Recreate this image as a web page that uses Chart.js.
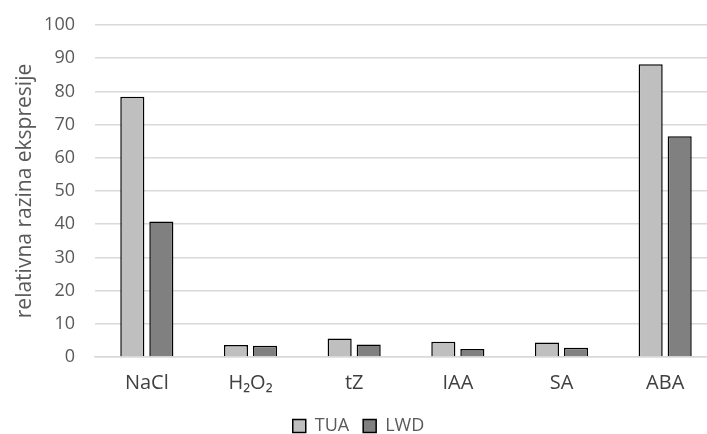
<!DOCTYPE html>
<html>
<head>
<meta charset="utf-8">
<script src="https://cdn.jsdelivr.net/npm/chart.js@4/dist/chart.umd.min.js"></script>
<style>
  html, body { margin: 0; padding: 0; background: #fff; overflow: hidden; }
  #wrap { width: 720px; height: 434px; }
</style>
</head>
<body>
<div id="wrap"><canvas id="barChart"></canvas></div>
<script>
const categories = ['NaCl', 'H₂O₂', 'tZ', 'IAA', 'SA', 'ABA'];
const tuaValues = [78.4, 3.6, 5.6, 4.6, 4.4, 88.2];
const lwdValues = [40.8, 3.4, 3.8, 2.4, 2.8, 66.5];
const yTicks = [0, 10, 20, 30, 40, 50, 60, 70, 80, 90, 100];

const fontFamily = "'Open Sans', 'DejaVu Sans', sans-serif";

const ctxBar = document.getElementById('barChart').getContext('2d');
const barChart = new Chart(ctxBar, {
    type: 'bar',
    data: {
        labels: categories,
        datasets: [
            {
                label: 'TUA',
                data: tuaValues,
                backgroundColor: '#BFBFBF',
                borderColor: '#000000',
                borderWidth: 1.5,
                borderSkipped: 'bottom'
            },
            {
                label: 'LWD',
                data: lwdValues,
                backgroundColor: '#808080',
                borderColor: '#000000',
                borderWidth: 1.5,
                borderSkipped: 'bottom'
            }
        ]
    },
    options: {
        responsive: true,
        maintainAspectRatio: false,
        animation: false,
        devicePixelRatio: 1,
        categoryPercentage: 0.56,
        barPercentage: 0.83,
        layout: {
            // legend sits partly below the visible edge, as in the original
            padding: { top: 25, right: 3, left: 0, bottom: -11 }
        },
        plugins: {
            legend: {
                position: 'bottom',
                labels: {
                    boxWidth: 13,
                    boxHeight: 13,
                    color: '#595959',
                    font: { family: fontFamily, size: 18 },
                    padding: 14,
                    generateLabels: function(chart) {
                        return chart.data.datasets.map((ds, i) => ({
                            text: ds.label,
                            fillStyle: ds.backgroundColor,
                            strokeStyle: '#000000',
                            lineWidth: 1.5,
                            fontColor: '#595959',
                            datasetIndex: i
                        }));
                    }
                }
            },
            tooltip: { enabled: false }
        },
        scales: {
            x: {
                afterFit: function(scale) {
                    scale.height = 46;
                },
                grid: { display: false, drawTicks: false },
                border: { color: '#D9D9D9', width: 1.5 },
                ticks: {
                    color: '#404040',
                    font: { family: fontFamily, size: 20 },
                    padding: 14
                }
            },
            y: {
                min: 0,
                max: 100,
                afterBuildTicks: function(scale) {
                    scale.ticks = yTicks.map(v => ({ value: v }));
                },
                afterFit: function(scale) {
                    scale.width = 95;
                },
                grid: {
                    color: '#D9D9D9',
                    lineWidth: 1.5,
                    drawTicks: true,
                    tickLength: 16,
                    tickColor: 'rgba(0,0,0,0)'
                },
                border: { display: false },
                ticks: {
                    color: '#595959',
                    font: { family: fontFamily, size: 18 },
                    padding: 4
                },
                title: {
                    display: true,
                    text: 'relativna razina ekspresije',
                    color: '#595959',
                    font: { family: fontFamily, size: 21 },
                    padding: { top: 12, bottom: 0 }
                }
            }
        }
    }
});
</script>
</body>
</html>
